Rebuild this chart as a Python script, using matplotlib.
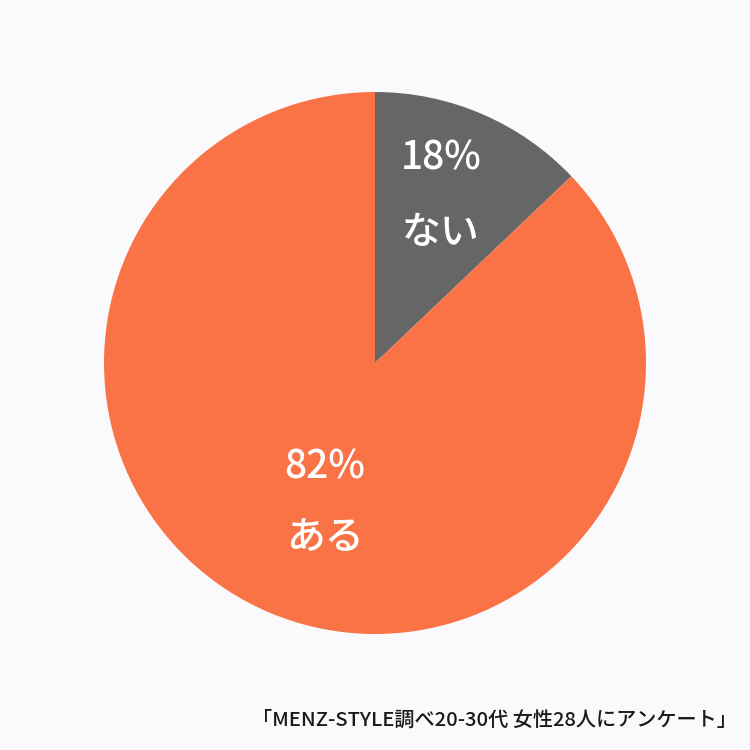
import matplotlib.pyplot as plt

plt.rcParams['font.family'] = ['Noto Sans CJK JP', 'DejaVu Sans']

labels = ['ない', 'ある']
percents = ['18%', '82%']
# wedge sizes as drawn in the picture
sizes = [12.9, 87.1]
colors = ['#666666', '#f97346']
note = '「MENZ-STYLE調べ20-30代 女性28人にアンケート」'

fig = plt.figure(figsize=(7.5, 7.5), dpi=100, facecolor='#fafafc')
r = 271 / 750
ax = fig.add_axes([0.5 - r, (1 - 363 / 750) - r, 2 * r, 2 * r])
ax.pie(sizes, colors=colors, startangle=90, counterclock=False, radius=1,
       wedgeprops=dict(linewidth=0))
ax.set_xlim(-1, 1)
ax.set_ylim(-1, 1)
ax.set_aspect('equal')
ax.axis('off')

pos = [(0.244, 0.756, 0.48), (-0.185, -0.384, -0.645)]
for (x, y1, y2), p, lab in zip(pos, percents, labels):
    ax.text(x, y1, p, color='white', fontsize=28, fontweight='medium',
            ha='center', va='center')
    ax.text(x, y2, lab, color='white', fontsize=28, fontweight='medium',
            ha='center', va='center')

fig.text(737 / 750, 1 - 720 / 750, note, fontsize=14.5, fontweight='medium',
         ha='right', va='center', color='#1a1a1a')

fig.savefig('out.png', dpi=100, facecolor=fig.get_facecolor())
